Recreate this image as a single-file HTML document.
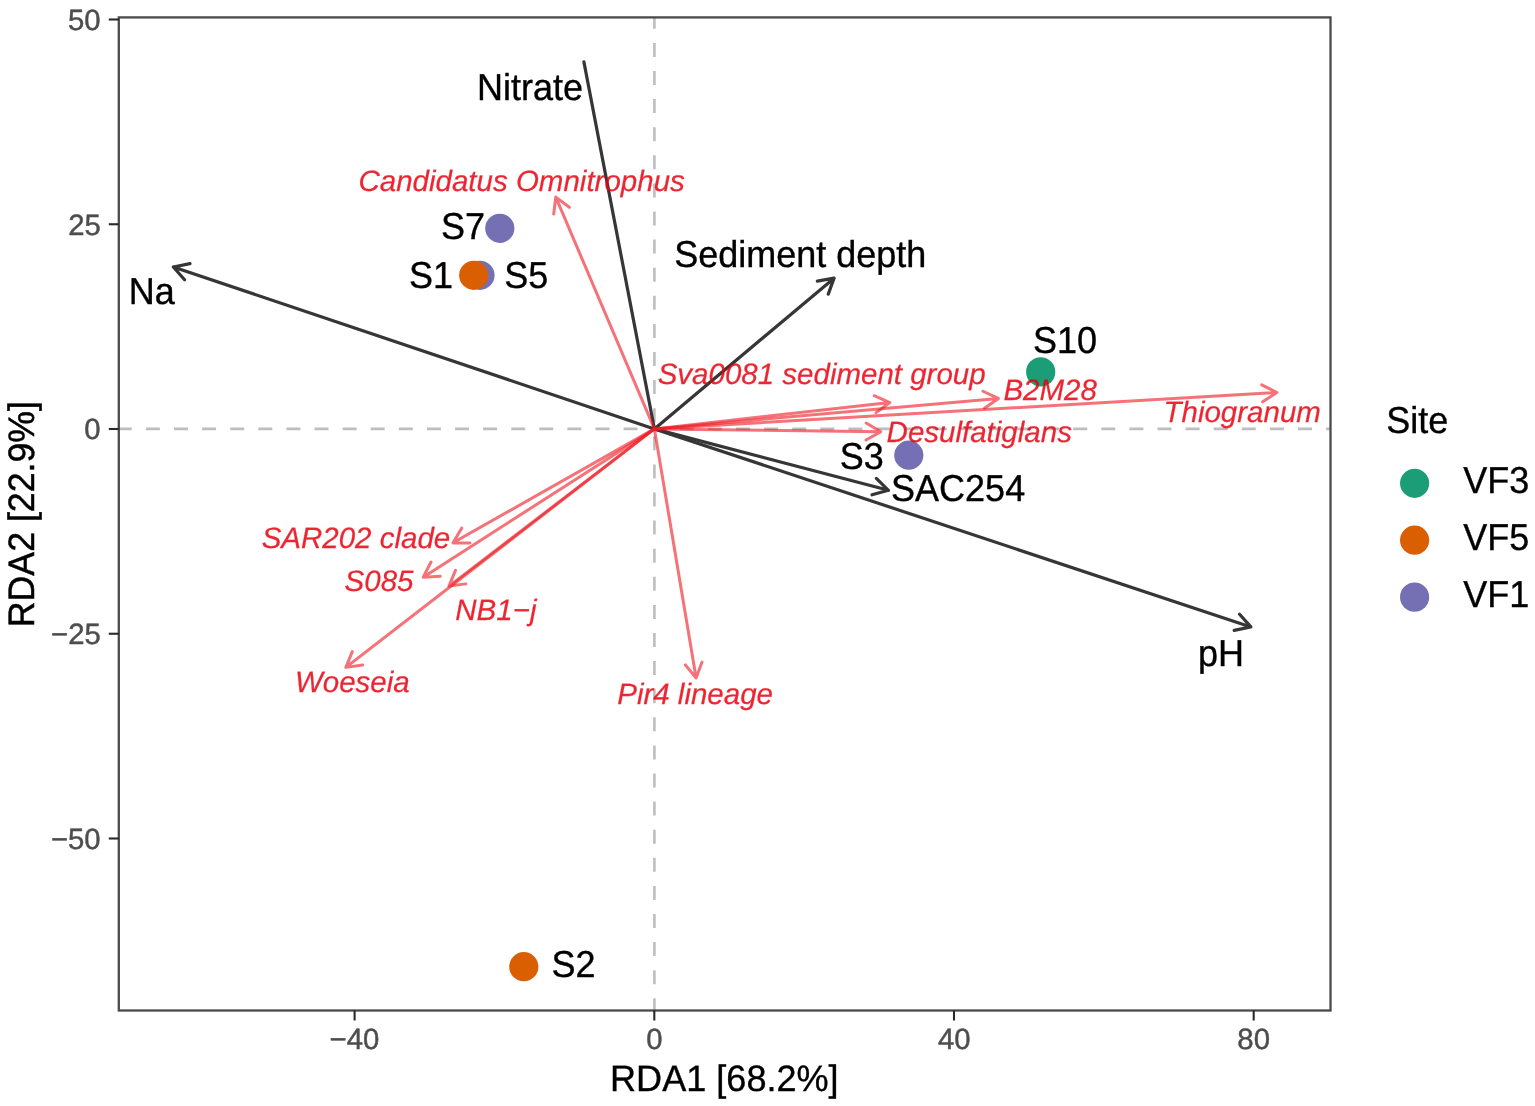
<!DOCTYPE html>
<html><head><meta charset="utf-8"><title>RDA biplot</title>
<style>
html,body{margin:0;padding:0;background:#fff;}
svg{display:block;}
text{font-family:"Liberation Sans",Arial,sans-serif;text-rendering:geometricPrecision;}
</style></head><body>
<svg width="1535" height="1106" viewBox="0 0 1535 1106">
<rect width="1535" height="1106" fill="#fff"/>
<path d="M117.8,428.9H1330.50" stroke="#BEBEBE" stroke-width="2.6" stroke-dasharray="14 14.1" fill="none"/>
<path d="M654.4,1012.30V17.40" stroke="#BEBEBE" stroke-width="2.6" stroke-dasharray="14 14.1" fill="none"/>
<path d="M654.40,428.90L583.90,61.90" fill="none" stroke="#363636" stroke-width="3.2" stroke-linejoin="round" stroke-linecap="round"/>
<path d="M654.40,428.90L173.34,266.98M190.00,263.62L173.34,266.98L184.58,279.74" fill="none" stroke="#363636" stroke-width="3.2" stroke-linejoin="round" stroke-linecap="round"/>
<path d="M654.40,428.90L834.08,278.17M828.26,294.15L834.08,278.17L817.34,281.12" fill="none" stroke="#363636" stroke-width="3.2" stroke-linejoin="round" stroke-linecap="round"/>
<path d="M654.40,428.90L888.44,490.30M872.04,494.78L888.44,490.30L876.36,478.34" fill="none" stroke="#363636" stroke-width="3.2" stroke-linejoin="round" stroke-linecap="round"/>
<path d="M654.40,428.90L1250.86,626.92M1234.21,630.35L1250.86,626.92L1239.57,614.22" fill="none" stroke="#363636" stroke-width="3.2" stroke-linejoin="round" stroke-linecap="round"/>
<path d="M654.40,428.90L555.77,197.10M569.36,207.32L555.77,197.10L553.71,213.98" fill="none" stroke="#EE1C25" stroke-width="3.0" stroke-opacity="0.62" stroke-linejoin="round" stroke-linecap="round"/>
<path d="M654.40,428.90L889.81,402.53M876.12,412.62L889.81,402.53L874.23,395.73" fill="none" stroke="#EE1C25" stroke-width="3.0" stroke-opacity="0.62" stroke-linejoin="round" stroke-linecap="round"/>
<path d="M654.40,428.90L998.40,398.41M984.49,408.17L998.40,398.41L982.99,391.24" fill="none" stroke="#EE1C25" stroke-width="3.0" stroke-opacity="0.62" stroke-linejoin="round" stroke-linecap="round"/>
<path d="M654.40,428.90L1276.90,392.47M1262.70,401.82L1276.90,392.47L1261.71,384.84" fill="none" stroke="#EE1C25" stroke-width="3.0" stroke-opacity="0.62" stroke-linejoin="round" stroke-linecap="round"/>
<path d="M654.40,428.90L880.80,431.69M865.97,440.00L880.80,431.69L866.18,423.00" fill="none" stroke="#EE1C25" stroke-width="3.0" stroke-opacity="0.62" stroke-linejoin="round" stroke-linecap="round"/>
<path d="M654.40,428.90L453.04,542.81M461.67,528.16L453.04,542.81L470.04,542.96" fill="none" stroke="#EE1C25" stroke-width="3.0" stroke-opacity="0.62" stroke-linejoin="round" stroke-linecap="round"/>
<path d="M654.40,428.90L423.21,577.15M431.02,562.05L423.21,577.15L440.19,576.36" fill="none" stroke="#EE1C25" stroke-width="3.0" stroke-opacity="0.62" stroke-linejoin="round" stroke-linecap="round"/>
<path d="M654.40,428.90L448.95,586.07M455.48,570.37L448.95,586.07L465.81,583.88" fill="none" stroke="#EE1C25" stroke-width="3.0" stroke-opacity="0.62" stroke-linejoin="round" stroke-linecap="round"/>
<path d="M654.40,428.90L345.85,667.37M352.30,651.64L345.85,667.37L362.70,665.09" fill="none" stroke="#EE1C25" stroke-width="3.0" stroke-opacity="0.62" stroke-linejoin="round" stroke-linecap="round"/>
<path d="M654.40,428.90L696.10,678.02M685.29,664.90L696.10,678.02L702.05,662.09" fill="none" stroke="#EE1C25" stroke-width="3.0" stroke-opacity="0.62" stroke-linejoin="round" stroke-linecap="round"/>
<circle cx="499.8" cy="228.3" r="14.6" fill="#7570B3"/>
<circle cx="480.0" cy="275.3" r="14.6" fill="#7570B3"/>
<circle cx="473.7" cy="275.3" r="14.6" fill="#D95F02"/>
<circle cx="1040.7" cy="371.9" r="14.6" fill="#1B9E77"/>
<circle cx="908.8" cy="455.2" r="14.6" fill="#7570B3"/>
<circle cx="523.8" cy="966.7" r="14.6" fill="#D95F02"/>
<text transform="translate(358.48,191.10) scale(1,1.0)" font-size="29.5" style="font-style:italic;" fill="#E8000F" stroke="#E8000F" stroke-width="0.25" opacity="0.85">Candidatus Omnitrophus</text>
<text transform="translate(657.66,383.70) scale(1,1.0)" font-size="29.5" style="font-style:italic;" fill="#E8000F" stroke="#E8000F" stroke-width="0.25" opacity="0.85">Sva0081 sediment group</text>
<text transform="translate(1003.40,400.10) scale(1,1.0)" font-size="29.5" style="font-style:italic;" fill="#E8000F" stroke="#E8000F" stroke-width="0.25" opacity="0.85">B2M28</text>
<text transform="translate(1163.45,421.70) scale(1,1.0)" font-size="29.5" style="font-style:italic;" fill="#E8000F" stroke="#E8000F" stroke-width="0.25" opacity="0.85">Thiogranum</text>
<text transform="translate(886.60,442.10) scale(1,1.0)" font-size="29.5" style="font-style:italic;" fill="#E8000F" stroke="#E8000F" stroke-width="0.25" opacity="0.85">Desulfatiglans</text>
<text transform="translate(261.63,547.70) scale(1,1.0)" font-size="29.5" style="font-style:italic;" fill="#E8000F" stroke="#E8000F" stroke-width="0.25" opacity="0.85">SAR202 clade</text>
<text transform="translate(344.60,590.60) scale(1,1.0)" font-size="29.5" style="font-style:italic;" fill="#E8000F" stroke="#E8000F" stroke-width="0.25" opacity="0.85">S085</text>
<text transform="translate(455.32,620.40) scale(1,1.0)" font-size="29.5" style="font-style:italic;" fill="#E8000F" stroke="#E8000F" stroke-width="0.25" opacity="0.85">NB1−j</text>
<text transform="translate(294.94,692.00) scale(1,1.0)" font-size="29.5" style="font-style:italic;" fill="#E8000F" stroke="#E8000F" stroke-width="0.25" opacity="0.85">Woeseia</text>
<text transform="translate(617.20,703.90) scale(1,1.0)" font-size="29.5" style="font-style:italic;" fill="#E8000F" stroke="#E8000F" stroke-width="0.25" opacity="0.85">Pir4 lineage</text>
<text transform="translate(477.01,99.90) scale(1,1.04)" font-size="36" fill="#000" stroke="#000" stroke-width="0.35">Nitrate</text>
<text transform="translate(128.71,303.80) scale(1,1.04)" font-size="36" fill="#000" stroke="#000" stroke-width="0.35">Na</text>
<text transform="translate(674.16,267.00) scale(1,1.04)" font-size="36" fill="#000" stroke="#000" stroke-width="0.35">Sediment depth</text>
<text transform="translate(891.07,500.80) scale(1,1.04)" font-size="36" fill="#000" stroke="#000" stroke-width="0.35">SAC254</text>
<text transform="translate(1198.10,665.70) scale(1,1.04)" font-size="36" fill="#000" stroke="#000" stroke-width="0.35">pH</text>
<text transform="translate(441.07,239.30) scale(1,1.04)" font-size="36" fill="#000" stroke="#000" stroke-width="0.35">S7</text>
<text transform="translate(409.04,288.00) scale(1,1.04)" font-size="36" fill="#000" stroke="#000" stroke-width="0.35">S1</text>
<text transform="translate(504.22,288.00) scale(1,1.04)" font-size="36" fill="#000" stroke="#000" stroke-width="0.35">S5</text>
<text transform="translate(1033.06,352.50) scale(1,1.04)" font-size="36" fill="#000" stroke="#000" stroke-width="0.35">S10</text>
<text transform="translate(839.76,468.70) scale(1,1.04)" font-size="36" fill="#000" stroke="#000" stroke-width="0.35">S3</text>
<text transform="translate(551.47,977.20) scale(1,1.04)" font-size="36" fill="#000" stroke="#000" stroke-width="0.35">S2</text>
<rect x="118.8" y="17.4" width="1211.70" height="993.10" fill="none" stroke="#4A4A4A" stroke-width="2.3"/>
<path d="M108.80,19.50H118.80" stroke="#2A2A2A" stroke-width="2.1"/>
<text transform="translate(68.05,29.80) scale(1,1.0)" font-size="29.3" fill="#4D4D4D" stroke="#4D4D4D" stroke-width="0.45">50</text>
<path d="M108.80,224.25H118.80" stroke="#2A2A2A" stroke-width="2.1"/>
<text transform="translate(68.14,234.55) scale(1,1.0)" font-size="29.3" fill="#4D4D4D" stroke="#4D4D4D" stroke-width="0.45">25</text>
<path d="M108.80,429.00H118.80" stroke="#2A2A2A" stroke-width="2.1"/>
<text transform="translate(84.35,439.30) scale(1,1.0)" font-size="29.3" fill="#4D4D4D" stroke="#4D4D4D" stroke-width="0.45">0</text>
<path d="M108.80,633.75H118.80" stroke="#2A2A2A" stroke-width="2.1"/>
<text transform="translate(51.03,644.05) scale(1,1.0)" font-size="29.3" fill="#4D4D4D" stroke="#4D4D4D" stroke-width="0.45">−25</text>
<path d="M108.80,838.50H118.80" stroke="#2A2A2A" stroke-width="2.1"/>
<text transform="translate(50.94,848.80) scale(1,1.0)" font-size="29.3" fill="#4D4D4D" stroke="#4D4D4D" stroke-width="0.45">−50</text>
<path d="M354.60,1010.50V1020.50" stroke="#2A2A2A" stroke-width="2.1"/>
<text transform="translate(329.60,1048.80) scale(1,1.0)" font-size="29.3" fill="#4D4D4D" stroke="#4D4D4D" stroke-width="0.45">−40</text>
<path d="M654.30,1010.50V1020.50" stroke="#2A2A2A" stroke-width="2.1"/>
<text transform="translate(646.15,1048.80) scale(1,1.0)" font-size="29.3" fill="#4D4D4D" stroke="#4D4D4D" stroke-width="0.45">0</text>
<path d="M954.00,1010.50V1020.50" stroke="#2A2A2A" stroke-width="2.1"/>
<text transform="translate(937.94,1048.80) scale(1,1.0)" font-size="29.3" fill="#4D4D4D" stroke="#4D4D4D" stroke-width="0.45">40</text>
<path d="M1253.70,1010.50V1020.50" stroke="#2A2A2A" stroke-width="2.1"/>
<text transform="translate(1237.34,1048.80) scale(1,1.0)" font-size="29.3" fill="#4D4D4D" stroke="#4D4D4D" stroke-width="0.45">80</text>
<text transform="translate(610.03,1091.20) scale(1,1.02)" font-size="36.1" fill="#000" stroke="#000" stroke-width="0.35">RDA1 [68.2%]</text>
<text transform="translate(33.6,627.20) rotate(-90) scale(1,1.03)" font-size="35.7" fill="#000" stroke="#000" stroke-width="0.5">RDA2 [22.9%]</text>
<text transform="translate(1386.27,432.80) scale(1,1.04)" font-size="36" fill="#000" stroke="#000" stroke-width="0.35">Site</text>
<circle cx="1414.6" cy="483.30" r="14.6" fill="#1B9E77"/>
<text transform="translate(1463.24,492.70) scale(1,1.04)" font-size="36" fill="#000" stroke="#000" stroke-width="0.35">VF3</text>
<circle cx="1414.6" cy="540.20" r="14.6" fill="#D95F02"/>
<text transform="translate(1463.24,549.60) scale(1,1.04)" font-size="36" fill="#000" stroke="#000" stroke-width="0.35">VF5</text>
<circle cx="1414.6" cy="597.10" r="14.6" fill="#7570B3"/>
<text transform="translate(1463.24,606.50) scale(1,1.04)" font-size="36" fill="#000" stroke="#000" stroke-width="0.35">VF1</text>
</svg>
</body></html>
